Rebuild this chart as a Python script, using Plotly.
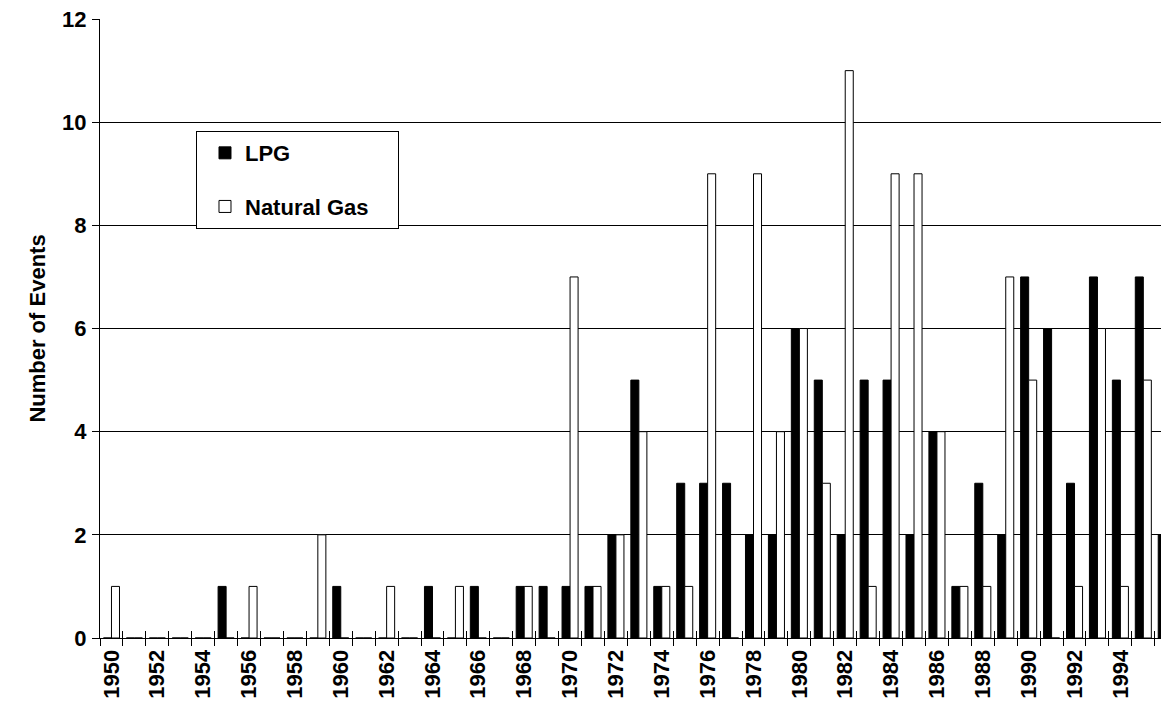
import plotly.graph_objects as go

# event counts per year
years = list(range(1950, 1997))
lpg = [0, 0, 0, 0, 0, 1, 0, 0, 0, 0,    # 1950-59
       1, 0, 0, 0, 1, 0, 1, 0, 1, 1,    # 1960-69
       1, 1, 2, 5, 1, 3, 3, 3, 2, 2,    # 1970-79
       6, 5, 2, 5, 5, 2, 4, 1, 3, 2,    # 1980-89
       7, 6, 3, 7, 5, 7, 2]             # 1990-96
natural_gas = [1, 0, 0, 0, 0, 0, 1, 0, 0, 2,
               0, 0, 1, 0, 0, 1, 0, 0, 1, 0,
               7, 1, 2, 4, 1, 1, 9, 0, 9, 4,
               6, 3, 11, 1, 9, 9, 4, 1, 1, 7,
               5, 0, 1, 6, 1, 5, 0]
label_years = years[::2]
boundaries = [y - 0.5 for y in years] + [years[-1] + 0.5]

FONT = "Liberation Sans, Arial, sans-serif"
PAD = "\u00a0" * 4   # widens the legend box a bit

fig = go.Figure()
fig.add_trace(go.Bar(x=years, y=lpg, name="LPG",
                     marker=dict(color="black", line=dict(color="black", width=1)),
                     legendgroup="a"))
fig.add_trace(go.Bar(x=years, y=natural_gas, name="Natural Gas" + PAD,
                     marker=dict(color="white", line=dict(color="black", width=1)),
                     legendgroup="b"))
# dummy trace so the overlay axis (inner half of the x ticks) is drawn
fig.add_trace(go.Scatter(x=[years[0]], y=[None], xaxis="x2", showlegend=False,
                         hoverinfo="skip"))

xrange = [years[0] - 0.5, years[-1] + 0.12]

# page body adds an 8px offset, so the figure is 8px smaller than the window
fig.update_layout(
    width=1161, height=695,
    margin=dict(l=92, r=0, t=11, b=65),
    plot_bgcolor="white", paper_bgcolor="white",
    barmode="group", bargap=0.3, bargroupgap=0,
    font=dict(family=FONT, size=22, color="black", weight="bold"),
    showlegend=True,
    legend=dict(x=0.0898, y=0.819, xanchor="left", yanchor="top",
                bgcolor="white", bordercolor="black", borderwidth=1,
                font=dict(size=22, weight="bold"), tracegroupgap=22,
                indentation=8, traceorder="grouped"),
    xaxis=dict(range=xrange, tickmode="array", tickvals=label_years,
               ticktext=[str(y) for y in label_years], tickangle=-90,
               ticks="", showgrid=False, showline=True, linecolor="black",
               linewidth=1, automargin=False, ticklabelstandoff=2,
               tickfont=dict(size=22, weight="bold"),
               minor=dict(tickmode="array", tickvals=boundaries, ticks="outside",
                          ticklen=7, tickcolor="black", tickwidth=1, showgrid=False)),
    xaxis2=dict(range=xrange, overlaying="x", anchor="y", side="bottom",
                tickmode="array", tickvals=boundaries, ticks="inside", ticklen=7,
                tickcolor="black", showticklabels=False, showgrid=False,
                showline=False, zeroline=False, automargin=False),
    yaxis=dict(range=[0, 12.001], tickmode="array", tickvals=[0, 2, 4, 6, 8, 10, 12],
               ticks="outside", ticklen=7, tickcolor="black",
               showline=True, linecolor="black", linewidth=1,
               showgrid=True, gridcolor="black", gridwidth=1, zeroline=False,
               automargin=False, ticklabelstandoff=1, ticklabeloverflow="allow",
               tickfont=dict(size=22, weight="bold"),
               title=dict(text="Number of Events", standoff=10,
                          font=dict(size=22, weight="bold"))),
)

fig.write_html("out.html")
